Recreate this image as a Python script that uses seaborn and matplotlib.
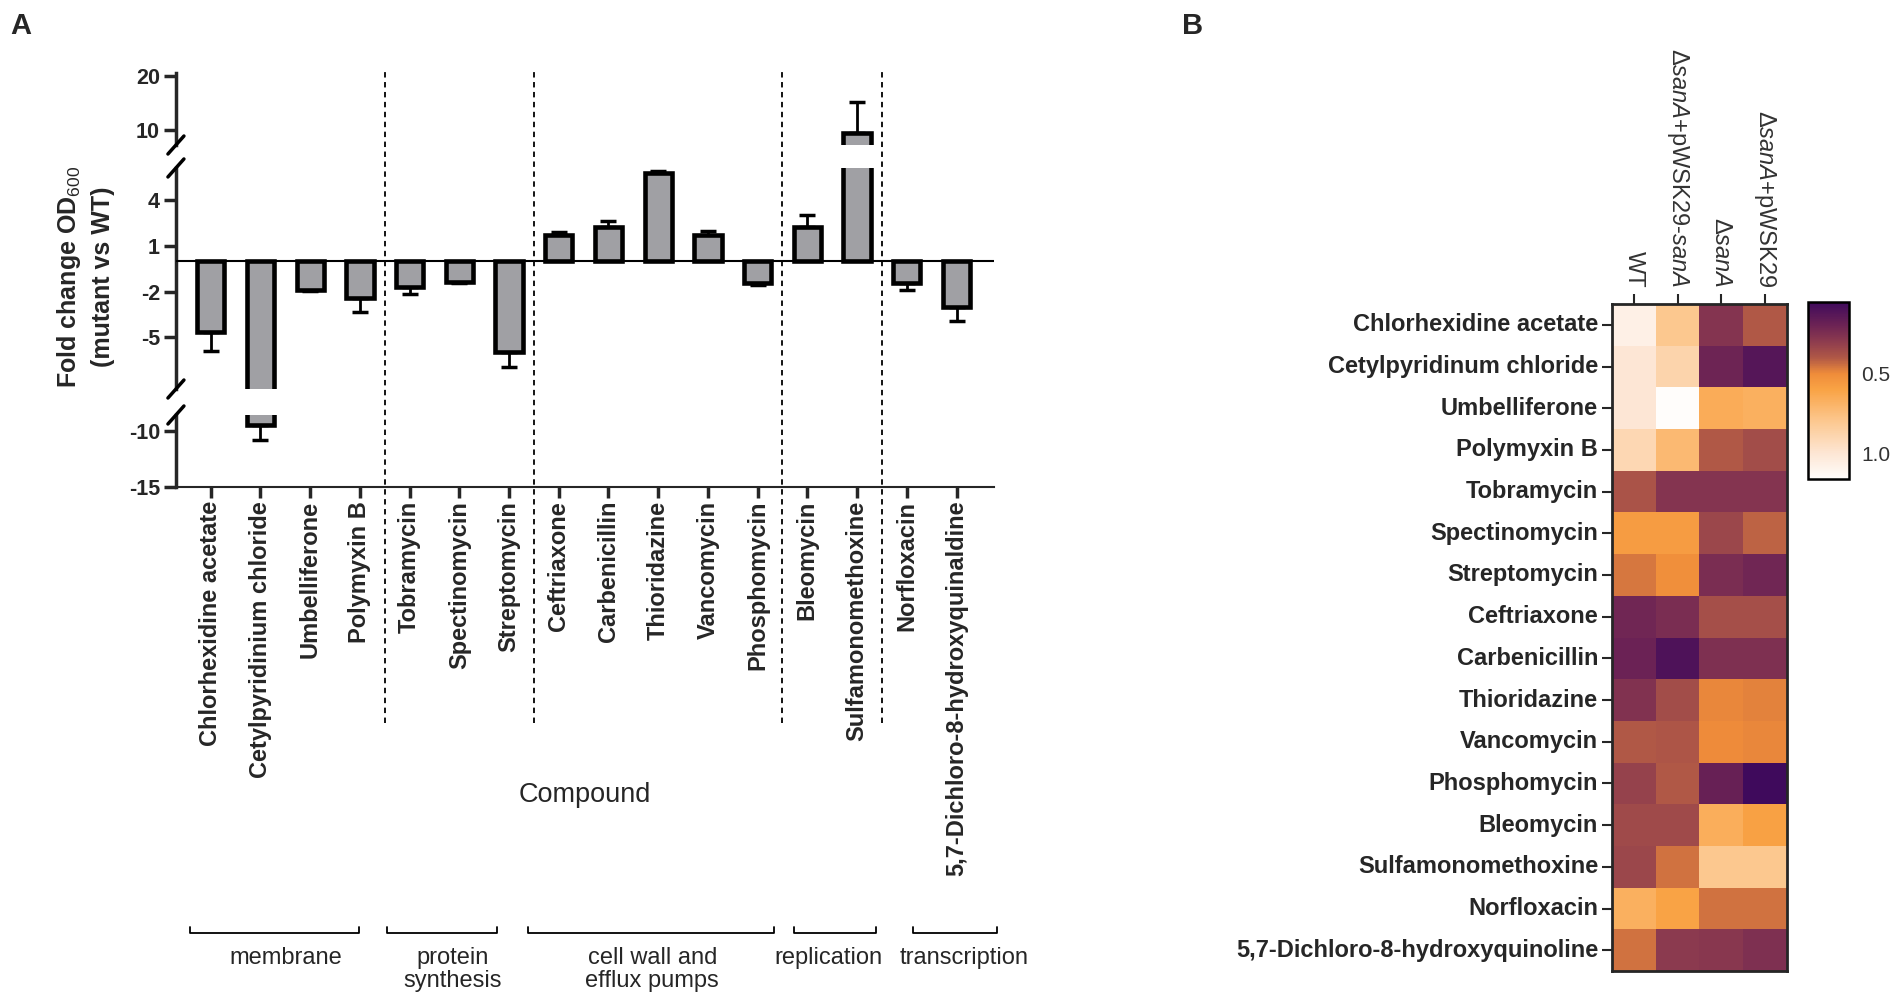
import numpy as np
import pandas as pd
import seaborn as sns
import matplotlib.pyplot as plt
import matplotlib.transforms as mtransforms
from matplotlib.colors import LinearSegmentedColormap
from matplotlib.lines import Line2D

#%%
# Panel A data: fold change OD600 (mutant vs WT) per compound
compounds = ['Chlorhexidine acetate', 'Cetylpyridinium chloride', 'Umbelliferone', 'Polymyxin B',
             'Tobramycin', 'Spectinomycin', 'Streptomycin',
             'Ceftriaxone', 'Carbenicillin', 'Thioridazine', 'Vancomycin', 'Phosphomycin',
             'Bleomycin', 'Sulfamonomethoxine',
             'Norfloxacin', '5,7-Dichloro-8-hydroxyquinaldine']
fold_change = [-4.67, -9.46, -1.90, -2.40, -1.68, -1.35, -5.98,
               1.70, 2.20, 5.74, 1.70, -1.42,
               2.25, 9.50, -1.42, -3.03]
fold_err = [1.20, 1.29, 0.07, 0.92, 0.48, 0.07, 0.94,
            0.18, 0.40, 0.18, 0.29, 0.15,
            0.76, 5.70, 0.48, 0.90]

groups = ['membrane', 'protein\nsynthesis', 'cell wall and\nefflux pumps', 'replication', 'transcription']
group_sizes = [4, 3, 5, 2, 2]

# Panel B data: heatmap (rows = compounds, columns = strains)
heat_rows = ['Chlorhexidine acetate', 'Cetylpyridinum chloride', 'Umbelliferone', 'Polymyxin B',
             'Tobramycin', 'Spectinomycin', 'Streptomycin', 'Ceftriaxone', 'Carbenicillin',
             'Thioridazine', 'Vancomycin', 'Phosphomycin', 'Bleomycin', 'Sulfamonomethoxine',
             'Norfloxacin', '5,7-Dichloro-8-hydroxyquinoline']
strains = ['WT', r'Δ$\mathit{sanA}$+pWSK29-$\mathit{sanA}$', r'Δ$\mathit{sanA}$', r'Δ$\mathit{sanA}$+pWSK29']
wt = [1.07, 1.00, 1.00, 0.90, 0.38, 0.57, 0.46, 0.21, 0.19, 0.26, 0.40, 0.32, 0.35, 0.34, 0.67, 0.45]
complemented = [0.80, 0.88, 1.16, 0.72, 0.27, 0.57, 0.51, 0.24, 0.10, 0.36, 0.39, 0.40, 0.35, 0.45, 0.60, 0.29]
mutant = [0.27, 0.20, 0.65, 0.40, 0.27, 0.34, 0.24, 0.37, 0.25, 0.49, 0.50, 0.18, 0.66, 0.80, 0.45, 0.28]
vector = [0.40, 0.12, 0.67, 0.36, 0.27, 0.42, 0.21, 0.37, 0.25, 0.48, 0.49, 0.05, 0.59, 0.80, 0.45, 0.25]

#%%
sns.set_style('ticks')
plt.rcParams['font.family'] = ['Liberation Sans', 'DejaVu Sans']
plt.rcParams['mathtext.fontset'] = 'custom'
plt.rcParams['mathtext.rm'] = 'Liberation Sans'
plt.rcParams['mathtext.it'] = 'Liberation Sans:italic'
plt.rcParams['mathtext.bf'] = 'Liberation Sans:bold'

fig = plt.figure(figsize=(19.02, 10.07), dpi=100)

left, width = 0.0925, 0.430
ax_top = fig.add_axes([left, 0.856, width, 0.0715])
ax_mid = fig.add_axes([left, 0.6137, width, 0.2195])
ax_low = fig.add_axes([left, 0.5164, width, 0.0715])
axes = [ax_top, ax_mid, ax_low]
limits = [(7.2, 20.6), (-8.38, 6.09), (-15, -8.53)]
yticks = [[10, 20], [-5, -2, 1, 4], [-15, -10]]

bar_df = pd.DataFrame({'compound': compounds, 'fold': fold_change})
pos = np.arange(len(compounds))
err_lo = [e if v < 0 else 0 for v, e in zip(fold_change, fold_err)]
err_hi = [e if v > 0 else 0 for v, e in zip(fold_change, fold_err)]

for ax, lim, ticks in zip(axes, limits, yticks):
    ax.errorbar(pos, fold_change, yerr=[err_lo, err_hi], fmt='none', ecolor='black',
                elinewidth=2, capsize=6, capthick=2.5, zorder=1)
    sns.barplot(data=bar_df, x='compound', y='fold', color='#a0a0a4', saturation=1,
                edgecolor='black', linewidth=3.3, width=0.55, errorbar=None, ax=ax, zorder=2)
    ax.set_ylim(*lim)
    ax.set_xlim(-0.7, 15.75)
    ax.set_xlabel('')
    ax.set_ylabel('')
    ax.set_yticks(ticks, labels=[str(t) for t in ticks], fontweight='bold')
    ax.tick_params(axis='y', direction='out', length=8.5, width=2.5, labelsize=15.5, pad=3)
    ax.spines['left'].set_linewidth(2.5)
    sns.despine(ax=ax, bottom=(ax is not ax_low))
    if ax is not ax_low:
        ax.tick_params(axis='x', bottom=False, labelbottom=False)

ax_mid.axhline(0, color='black', lw=1.5, zorder=3)

ax_low.spines['bottom'].set_linewidth(1.5)
ax_low.set_xticks(pos, labels=compounds, rotation=90, fontweight='bold', fontsize=17)
ax_low.tick_params(axis='x', direction='out', length=8, width=2.5, pad=2)

# axis break marks
dx, dy = 8 / 1902, 9 / 1007
for ax, edge in [(ax_top, 'bottom'), (ax_mid, 'top'), (ax_mid, 'bottom'), (ax_low, 'top')]:
    bb = ax.get_position()
    y = bb.y0 if edge == 'bottom' else bb.y1
    fig.add_artist(Line2D([bb.x0 - dx, bb.x0 + dx], [y - dy, y + dy],
                          transform=fig.transFigure, color='black', lw=2.5))

# dashed group separators and group brackets
trans = mtransforms.blended_transform_factory(ax_low.transData, fig.transFigure)
bounds = np.cumsum(group_sizes)[:-1] - 0.5
for xb in bounds:
    ax_low.plot([xb, xb], [0.282, 0.9325], transform=trans, color='black', lw=1.3,
                ls=(0, (3, 2.5)), clip_on=False)

bracket_spans = [(-0.41, 2.99), (3.55, 5.76), (6.39, 11.32), (11.73, 13.38), (14.13, 15.82)]
label_x = [1.52, 4.86, 8.88, 12.42, 15.16]
for (x0, x1), lx, name in zip(bracket_spans, label_x, groups):
    ax_low.plot([x0, x0, x1, x1], [0.0795, 0.0735, 0.0735, 0.0795], transform=trans,
                color='black', lw=1.3, clip_on=False)
    ax_low.text(lx, 0.0595, name, transform=trans, ha='center', va='top', fontsize=17,
                linespacing=1.05)

ax_low.text(7.525, 0.2105, 'Compound', transform=trans, ha='center', va='center', fontsize=19.5)

fig.text(0.0447, 0.725, 'Fold change OD$_{600}$\n(mutant vs WT)', rotation=90, ha='center',
         va='center', fontsize=18, fontweight='bold', linespacing=1.4)

#%%
# Panel B heatmap
cmap = LinearSegmentedColormap.from_list('od_ratio', [
    (0.0, '#3f0a5c'), (0.135, '#6e2454'), (0.225, '#8e3c4e'), (0.315, '#b05846'),
    (0.405, '#ef8c3a'), (0.495, '#f9a345'), (0.676, '#fcc890'), (0.856, '#fde6d4'),
    (1.0, '#fffdfb')])

heat_df = pd.DataFrame({strains[0]: wt, strains[1]: complemented,
                        strains[2]: mutant, strains[3]: vector}, index=heat_rows)

ax_h = fig.add_axes([0.8475, 0.0357, 0.092, 0.6624])
cax = fig.add_axes([0.9506, 0.5243, 0.0216, 0.1758])
sns.heatmap(heat_df, cmap=cmap, vmin=0.05, vmax=1.16, ax=ax_h, cbar_ax=cax,
            xticklabels=True, yticklabels=True)

ax_h.xaxis.tick_top()
ax_h.set_xticklabels(strains, rotation=270, ha='center', va='bottom', fontsize=17, color='#333333')
ax_h.set_yticklabels(heat_rows, rotation=0, fontweight='bold', fontsize=17)
ax_h.tick_params(axis='both', direction='out', length=7, width=1.5)
ax_h.tick_params(axis='x', pad=5)
ax_h.tick_params(axis='y', pad=3)
for s in ax_h.spines.values():
    s.set_visible(True)
    s.set_linewidth(2)

cbar = ax_h.collections[0].colorbar
cax.invert_yaxis()
cbar.set_ticks([0.5, 1.0])
cbar.set_ticklabels(['0.5', '1.0'])
cax.tick_params(direction='in', left=True, right=True, length=6, width=1.5,
                labelsize=15, labelcolor='#333333', pad=9)
cbar.outline.set_edgecolor('black')
cbar.outline.set_linewidth(1.8)

fig.text(0.0053, 0.974, 'A', fontsize=21, fontweight='bold', va='center')
fig.text(0.6215, 0.974, 'B', fontsize=21, fontweight='bold', va='center')

fig.savefig('out.png', dpi=100)
